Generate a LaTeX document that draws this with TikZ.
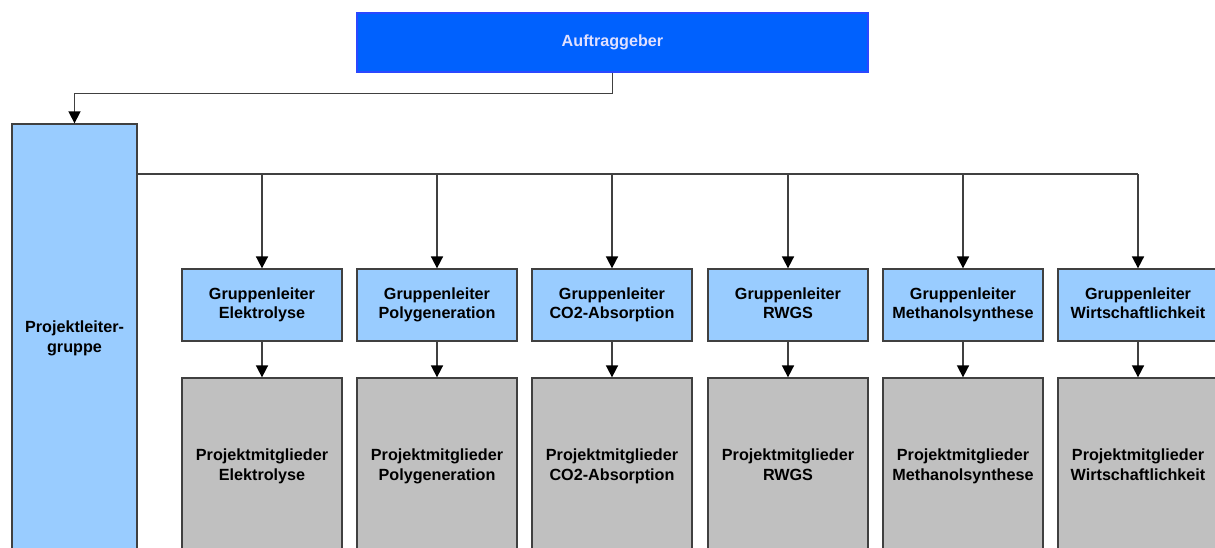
\documentclass[tikz,border=0pt]{standalone}
\usepackage{fontspec}
\setmainfont{Liberation Sans}
\usepackage{xcolor}
\usepackage{tikz}
\usetikzlibrary{arrows.meta}
\definecolor{kunde}{HTML}{0061FE}
\definecolor{kundeline}{HTML}{2A48FF}
\definecolor{leiter}{HTML}{99CCFF}
\definecolor{mitglied}{HTML}{C0C0C0}
\definecolor{linie}{HTML}{404040}

\begin{document}
\begin{tikzpicture}[
          x=0.025cm, y=-0.025cm,
          box/.style={draw=linie, line width=0.9pt, align=center, inner sep=0pt,
            font=\fontsize{11.5}{14.2}\selectfont\bfseries},
          gl/.style={box, fill=leiter, minimum width=4cm, minimum height=1.8cm},
          mg/.style={box, fill=mitglied, minimum width=4cm, minimum height=4.425cm},
          line/.style={draw=linie, line width=1.2pt},
          arr/.style={line, -{Triangle[width=0.3cm, length=0.3cm, color=black]}}
        ]
          \clip (0,0) rectangle (1215,547);
          % Top
          \node[box, draw=kundeline, fill=kunde, text=white!88!blue, minimum width=12.775cm, minimum height=1.475cm] (auftrag) at (612.5,42.5) {Auftraggeber};
          \node[box, fill=leiter, minimum width=3.125cm, minimum height=10.775cm] (plg) at (74.5,339.5) {Projektleiter-\\gruppe\strut};
          \draw[arr] (auftrag.south) -- ++(0,21) -| (plg.north);

          % Groups
          \foreach \i/\x/\name in {1/262/Elektrolyse, 2/437/Polygeneration, 3/612/CO2-Absorption,
              4/788/RWGS, 5/963/Methanolsynthese, 6/1138/Wirtschaftlichkeit} {
            \node[gl] (gl\i) at (\x,305) {\strut Gruppenleiter\\\name\strut};
            \node[mg] (mg\i) at (\x,466.5) {\strut Projektmitglieder\\\name\strut};
            \draw[arr] (gl\i.south) -- (mg\i.north);
          }

          \coordinate (bus) at (137,174);
          \draw[line] (bus) -- (bus -| gl6.north);
          \foreach \i in {1,...,6}
            \draw[arr] (bus -| gl\i.north) -- (gl\i.north);
        \end{tikzpicture}
\end{document}
